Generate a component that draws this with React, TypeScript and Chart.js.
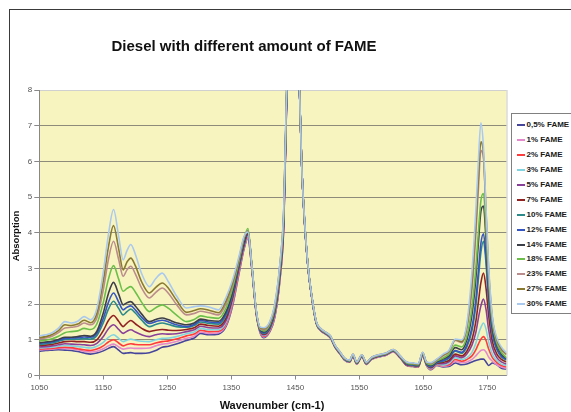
import React, { useEffect, useRef } from "react";
import { Chart, registerables } from "chart.js";

Chart.register(...registerables);

const FONT = '"Liberation Sans", Arial, Helvetica, sans-serif';

const chartTitle = "Diesel with different amount of FAME";
const xAxisTitle = "Wavenumber (cm-1)";
const yAxisTitle = "Absorption";

const xTickValues = [1050, 1150, 1250, 1350, 1450, 1550, 1650, 1750];
const yTickValues = [0, 1, 2, 3, 4, 5, 6, 7, 8];

const seriesLabels = [
  "0,5% FAME", "1% FAME", "2% FAME", "3% FAME", "5% FAME", "7% FAME", "10% FAME",
  "12% FAME", "14% FAME", "18% FAME", "23% FAME", "27% FAME", "30% FAME",
];

const seriesColors = [
  "#45459c", "#e389cc", "#ff3b3b", "#82d3e0", "#8a3f99", "#922222", "#2b8a8a",
  "#3555c2", "#3d3f48", "#6cc04a", "#bb8c8c", "#8a7a30", "#a9c9ee",
];

const wavenumbers = [
  1050, 1060, 1070, 1080, 1090, 1100, 1110, 1120, 1130, 1140,
  1150, 1158, 1166, 1174, 1181, 1187, 1193, 1200, 1210, 1222,
  1232, 1242, 1252, 1264, 1280, 1292, 1302, 1315, 1330, 1342,
  1352, 1362, 1370, 1376, 1382, 1389, 1395, 1401, 1410, 1418,
  1426, 1432, 1436, 1440, 1450, 1456, 1460, 1464, 1470, 1476,
  1483, 1490, 1498, 1505, 1512, 1520, 1527, 1535, 1540, 1546,
  1554, 1561, 1569, 1580, 1592, 1603, 1614, 1624, 1634, 1642,
  1649, 1655, 1662, 1671, 1681, 1690, 1700, 1710, 1718, 1726,
  1732, 1736, 1740, 1744, 1748, 1752, 1758, 1765, 1772, 1780,
];

const fame0_5 = [
  0.68, 0.70, 0.71, 0.72, 0.71, 0.70, 0.67, 0.63, 0.60, 0.63,
  0.69, 0.76, 0.81, 0.71, 0.62, 0.63, 0.64, 0.62, 0.62, 0.64,
  0.70, 0.79, 0.82, 0.88, 0.98, 1.05, 1.18, 1.14, 1.16, 1.38,
  1.95, 2.85, 3.55, 3.85, 3.00, 1.72, 1.20, 1.06, 1.22, 1.63,
  2.68, 4.20, 7.30, 9.60, 10.40, 8.30, 5.90, 4.40, 3.00, 2.15,
  1.44, 1.25, 1.15, 1.05, 0.79, 0.60, 0.43, 0.37, 0.54, 0.32,
  0.52, 0.31, 0.45, 0.52, 0.57, 0.67, 0.49, 0.28, 0.25, 0.23,
  0.55, 0.28, 0.16, 0.28, 0.24, 0.25, 0.35, 0.30, 0.32, 0.38,
  0.42, 0.44, 0.46, 0.46, 0.38, 0.28, 0.35, 0.30, 0.20, 0.18,
];
const fame1 = [
  0.72, 0.73, 0.74, 0.76, 0.76, 0.75, 0.72, 0.68, 0.66, 0.68,
  0.75, 0.83, 0.88, 0.80, 0.74, 0.76, 0.77, 0.76, 0.76, 0.77,
  0.83, 0.88, 0.90, 0.95, 1.04, 1.10, 1.22, 1.18, 1.20, 1.42,
  2.00, 2.90, 3.58, 3.85, 3.00, 1.73, 1.22, 1.08, 1.24, 1.66,
  2.70, 4.23, 7.32, 9.62, 10.41, 8.31, 5.90, 4.41, 3.00, 2.15,
  1.45, 1.25, 1.15, 1.05, 0.80, 0.60, 0.43, 0.37, 0.54, 0.32,
  0.52, 0.31, 0.45, 0.52, 0.57, 0.67, 0.49, 0.29, 0.26, 0.24,
  0.56, 0.29, 0.17, 0.29, 0.26, 0.28, 0.40, 0.36, 0.38, 0.45,
  0.55, 0.63, 0.70, 0.72, 0.66, 0.52, 0.40, 0.30, 0.24, 0.20,
];
const fame2 = [
  0.74, 0.75, 0.76, 0.78, 0.79, 0.78, 0.75, 0.72, 0.70, 0.74,
  0.83, 0.94, 1.00, 0.91, 0.83, 0.87, 0.89, 0.87, 0.86, 0.86,
  0.91, 0.95, 0.97, 1.02, 1.11, 1.16, 1.27, 1.23, 1.24, 1.46,
  2.05, 2.95, 3.60, 3.90, 3.02, 1.74, 1.23, 1.10, 1.26, 1.69,
  2.73, 4.25, 7.34, 9.63, 10.42, 8.31, 5.90, 4.41, 3.01, 2.16,
  1.45, 1.26, 1.16, 1.06, 0.80, 0.61, 0.44, 0.38, 0.55, 0.33,
  0.53, 0.32, 0.46, 0.53, 0.58, 0.68, 0.50, 0.29, 0.26, 0.24,
  0.56, 0.29, 0.18, 0.30, 0.28, 0.30, 0.45, 0.40, 0.45, 0.55,
  0.72, 0.88, 1.02, 1.09, 0.98, 0.75, 0.50, 0.36, 0.28, 0.24,
];
const fame3 = [
  0.77, 0.78, 0.79, 0.82, 0.84, 0.83, 0.81, 0.79, 0.77, 0.82,
  0.93, 1.07, 1.14, 1.04, 0.95, 0.99, 1.02, 0.99, 0.96, 0.95,
  1.00, 1.04, 1.05, 1.09, 1.17, 1.22, 1.32, 1.28, 1.28, 1.50,
  2.10, 3.00, 3.62, 3.92, 3.04, 1.75, 1.24, 1.12, 1.28, 1.72,
  2.75, 4.28, 7.36, 9.65, 10.43, 8.32, 5.90, 4.42, 3.01, 2.16,
  1.45, 1.26, 1.16, 1.06, 0.80, 0.61, 0.44, 0.38, 0.55, 0.33,
  0.53, 0.32, 0.46, 0.53, 0.58, 0.68, 0.50, 0.30, 0.27, 0.25,
  0.57, 0.30, 0.19, 0.31, 0.29, 0.34, 0.50, 0.45, 0.50, 0.65,
  0.90, 1.15, 1.35, 1.47, 1.30, 0.95, 0.60, 0.42, 0.32, 0.28,
];
const fame5 = [
  0.80, 0.81, 0.83, 0.86, 0.89, 0.88, 0.87, 0.86, 0.84, 0.90,
  1.09, 1.31, 1.42, 1.29, 1.18, 1.24, 1.28, 1.22, 1.14, 1.09,
  1.14, 1.17, 1.16, 1.17, 1.23, 1.28, 1.38, 1.34, 1.33, 1.55,
  2.15, 3.02, 3.65, 3.95, 3.05, 1.76, 1.25, 1.14, 1.30, 1.75,
  2.80, 4.33, 7.40, 9.68, 10.45, 8.33, 5.90, 4.43, 3.01, 2.16,
  1.46, 1.27, 1.17, 1.07, 0.81, 0.62, 0.45, 0.39, 0.56, 0.34,
  0.54, 0.33, 0.47, 0.54, 0.59, 0.69, 0.51, 0.30, 0.28, 0.26,
  0.58, 0.31, 0.21, 0.33, 0.33, 0.38, 0.55, 0.50, 0.60, 0.85,
  1.20, 1.60, 1.95, 2.14, 1.85, 1.30, 0.78, 0.50, 0.38, 0.32,
];
const fame7 = [
  0.84, 0.85, 0.87, 0.91, 0.95, 0.96, 0.95, 0.95, 0.93, 1.00,
  1.26, 1.54, 1.68, 1.52, 1.37, 1.47, 1.54, 1.45, 1.32, 1.23,
  1.27, 1.29, 1.27, 1.26, 1.29, 1.34, 1.44, 1.40, 1.38, 1.62,
  2.20, 3.05, 3.68, 3.98, 3.06, 1.77, 1.26, 1.16, 1.32, 1.78,
  2.84, 4.38, 7.44, 9.70, 10.47, 8.34, 5.90, 4.44, 3.02, 2.17,
  1.46, 1.27, 1.17, 1.07, 0.81, 0.62, 0.45, 0.39, 0.56, 0.34,
  0.54, 0.33, 0.47, 0.54, 0.59, 0.69, 0.51, 0.31, 0.28, 0.26,
  0.59, 0.32, 0.23, 0.34, 0.37, 0.42, 0.60, 0.55, 0.68, 1.00,
  1.50, 2.05, 2.60, 2.87, 2.45, 1.70, 0.95, 0.60, 0.45, 0.38,
];
const fame10 = [
  0.87, 0.89, 0.91, 0.96, 1.01, 1.02, 1.02, 1.03, 1.02, 1.12,
  1.48, 1.86, 2.08, 1.88, 1.70, 1.79, 1.86, 1.75, 1.55, 1.37,
  1.43, 1.47, 1.43, 1.37, 1.35, 1.40, 1.50, 1.46, 1.44, 1.70,
  2.27, 3.10, 3.72, 4.02, 3.07, 1.78, 1.27, 1.18, 1.34, 1.80,
  2.89, 4.43, 7.48, 9.74, 10.49, 8.35, 5.90, 4.45, 3.02, 2.17,
  1.47, 1.28, 1.18, 1.08, 0.82, 0.63, 0.46, 0.40, 0.57, 0.35,
  0.55, 0.34, 0.48, 0.55, 0.60, 0.70, 0.52, 0.32, 0.29, 0.27,
  0.60, 0.33, 0.25, 0.36, 0.40, 0.48, 0.68, 0.62, 0.80, 1.25,
  1.95, 2.70, 3.45, 3.76, 3.15, 2.10, 1.15, 0.72, 0.52, 0.43,
];
const fame12 = [
  0.90, 0.92, 0.94, 0.99, 1.04, 1.05, 1.06, 1.08, 1.07, 1.18,
  1.60, 2.05, 2.31, 2.06, 1.84, 1.91, 1.95, 1.84, 1.63, 1.46,
  1.51, 1.55, 1.50, 1.42, 1.37, 1.43, 1.54, 1.50, 1.48, 1.75,
  2.30, 3.12, 3.74, 4.05, 3.08, 1.79, 1.28, 1.20, 1.36, 1.83,
  2.92, 4.45, 7.50, 9.75, 10.50, 8.35, 5.90, 4.45, 3.03, 2.18,
  1.47, 1.28, 1.18, 1.08, 0.82, 0.63, 0.46, 0.40, 0.57, 0.35,
  0.55, 0.34, 0.48, 0.55, 0.60, 0.70, 0.52, 0.33, 0.30, 0.28,
  0.60, 0.33, 0.26, 0.37, 0.42, 0.50, 0.70, 0.65, 0.85, 1.35,
  2.10, 2.90, 3.70, 3.97, 3.30, 2.20, 1.20, 0.75, 0.55, 0.45,
];
const fame14 = [
  0.92, 0.94, 0.96, 1.01, 1.07, 1.07, 1.09, 1.12, 1.10, 1.24,
  1.75, 2.30, 2.61, 2.28, 1.98, 2.04, 2.07, 1.95, 1.72, 1.51,
  1.57, 1.61, 1.56, 1.48, 1.42, 1.47, 1.58, 1.54, 1.52, 1.80,
  2.35, 3.15, 3.76, 4.05, 3.08, 1.79, 1.29, 1.22, 1.38, 1.85,
  2.96, 4.50, 7.54, 9.78, 10.52, 8.36, 5.90, 4.46, 3.03, 2.18,
  1.48, 1.29, 1.19, 1.09, 0.83, 0.64, 0.47, 0.41, 0.58, 0.36,
  0.56, 0.35, 0.49, 0.56, 0.61, 0.71, 0.53, 0.34, 0.31, 0.29,
  0.61, 0.34, 0.28, 0.39, 0.46, 0.55, 0.78, 0.72, 1.00, 1.70,
  2.70, 3.70, 4.60, 4.75, 3.80, 2.50, 1.35, 0.85, 0.60, 0.48,
];
const fame18 = [
  0.97, 0.99, 1.03, 1.10, 1.20, 1.23, 1.25, 1.32, 1.29, 1.45,
  2.05, 2.70, 3.08, 2.70, 2.36, 2.44, 2.49, 2.34, 2.05, 1.79,
  1.90, 1.98, 1.88, 1.70, 1.51, 1.57, 1.67, 1.63, 1.60, 1.90,
  2.45, 3.20, 3.85, 4.12, 3.12, 1.80, 1.30, 1.25, 1.42, 1.90,
  3.01, 4.55, 7.58, 9.81, 10.54, 8.37, 5.90, 4.47, 3.04, 2.19,
  1.48, 1.29, 1.19, 1.09, 0.83, 0.64, 0.47, 0.41, 0.58, 0.36,
  0.56, 0.35, 0.49, 0.56, 0.61, 0.71, 0.53, 0.35, 0.32, 0.30,
  0.62, 0.35, 0.30, 0.41, 0.49, 0.60, 0.85, 0.80, 1.10, 1.90,
  3.00, 4.00, 4.90, 5.10, 4.10, 2.70, 1.45, 0.90, 0.65, 0.50,
];
const fame23 = [
  1.03, 1.05, 1.10, 1.20, 1.33, 1.35, 1.38, 1.47, 1.42, 1.62,
  2.40, 3.25, 3.76, 3.25, 2.78, 2.96, 3.06, 2.85, 2.45, 2.17,
  2.33, 2.45, 2.30, 2.00, 1.70, 1.74, 1.80, 1.76, 1.70, 2.02,
  2.55, 3.25, 3.85, 4.05, 3.10, 1.81, 1.32, 1.28, 1.45, 1.94,
  3.08, 4.63, 7.64, 9.86, 10.57, 8.39, 5.90, 4.49, 3.04, 2.19,
  1.49, 1.30, 1.20, 1.10, 0.84, 0.65, 0.48, 0.42, 0.59, 0.37,
  0.57, 0.36, 0.50, 0.57, 0.62, 0.72, 0.54, 0.37, 0.34, 0.32,
  0.64, 0.37, 0.33, 0.43, 0.55, 0.66, 0.98, 0.92, 1.30, 2.40,
  3.90, 5.20, 6.30, 6.10, 4.50, 2.90, 1.55, 0.98, 0.72, 0.58,
];
const fame27 = [
  1.06, 1.09, 1.15, 1.26, 1.42, 1.40, 1.44, 1.55, 1.48, 1.74,
  2.65, 3.60, 4.20, 3.55, 2.96, 3.18, 3.29, 3.08, 2.62, 2.31,
  2.47, 2.59, 2.44, 2.12, 1.77, 1.82, 1.87, 1.83, 1.76, 2.10,
  2.60, 3.28, 3.87, 4.03, 3.10, 1.82, 1.34, 1.31, 1.48, 1.97,
  3.12, 4.67, 7.67, 9.88, 10.59, 8.39, 5.90, 4.49, 3.05, 2.20,
  1.50, 1.31, 1.21, 1.11, 0.85, 0.66, 0.49, 0.43, 0.60, 0.38,
  0.58, 0.37, 0.51, 0.58, 0.63, 0.73, 0.55, 0.37, 0.34, 0.32,
  0.64, 0.37, 0.35, 0.45, 0.57, 0.68, 1.00, 0.95, 1.38, 2.60,
  4.20, 5.50, 6.55, 6.20, 4.60, 3.00, 1.60, 1.00, 0.75, 0.60,
];
const fame30 = [
  1.11, 1.14, 1.20, 1.33, 1.51, 1.47, 1.52, 1.65, 1.56, 1.88,
  2.90, 3.95, 4.65, 3.90, 3.24, 3.50, 3.67, 3.40, 2.85, 2.49,
  2.72, 2.87, 2.62, 2.24, 1.89, 1.93, 1.95, 1.92, 1.84, 2.20,
  2.68, 3.34, 3.90, 4.02, 3.10, 1.83, 1.36, 1.34, 1.51, 2.02,
  3.15, 4.70, 7.70, 9.90, 10.60, 8.40, 5.90, 4.50, 3.05, 2.20,
  1.50, 1.31, 1.21, 1.11, 0.85, 0.66, 0.49, 0.43, 0.60, 0.38,
  0.58, 0.37, 0.51, 0.58, 0.63, 0.73, 0.55, 0.38, 0.35, 0.33,
  0.65, 0.38, 0.36, 0.46, 0.60, 0.70, 1.02, 1.00, 1.45, 2.90,
  4.60, 6.00, 7.08, 6.40, 4.70, 3.10, 1.65, 1.05, 0.80, 0.63,
];

const seriesValues = [
  fame0_5, fame1, fame2, fame3, fame5, fame7, fame10,
  fame12, fame14, fame18, fame23, fame27, fame30,
];

export default function App() {
  const canvasRef = useRef<HTMLCanvasElement | null>(null);

  useEffect(() => {
    if (!canvasRef.current) return;
    Chart.defaults.font.family = FONT;

    const datasets = seriesValues.map((vals, i) => ({
      label: seriesLabels[i],
      data: vals.map((y, j) => ({ x: wavenumbers[j], y })),
      borderColor: seriesColors[i],
      backgroundColor: seriesColors[i],
      borderWidth: 1.6,
      pointRadius: 0,
      fill: false,
      cubicInterpolationMode: "monotone" as const,
      order: seriesValues.length - 1 - i,
    }));

    const plotBackground = {
      id: "plotBackground",
      beforeDraw(chart: any) {
        const { ctx, chartArea: a } = chart;
        ctx.save();
        ctx.fillStyle = "#f8f4c0";
        ctx.fillRect(a.left, a.top, a.right - a.left, a.bottom - a.top);
        ctx.restore();
      },
      afterDraw(chart: any) {
        const { ctx, chartArea: a } = chart;
        ctx.save();
        ctx.strokeStyle = "#c8c8c8";
        ctx.lineWidth = 1;
        ctx.beginPath();
        ctx.moveTo(a.right + 0.5, a.top);
        ctx.lineTo(a.right + 0.5, a.bottom);
        ctx.stroke();
        ctx.restore();
      },
    };

    const chart = new Chart(canvasRef.current, {
      type: "line",
      data: { datasets },
      plugins: [plotBackground],
      options: {
        responsive: false,
        animation: false,
        events: [],
        layout: { padding: { top: 90, left: 0, right: 64.5, bottom: 0 } },
        plugins: {
          legend: { display: false },
          tooltip: { enabled: false },
          title: { display: false },
        },
        scales: {
          x: {
            type: "linear",
            min: 1050,
            max: 1780,
            afterBuildTicks: (s: any) => {
              s.ticks = xTickValues.map((v) => ({ value: v }));
            },
            afterFit: (s: any) => {
              s.height = 36.5;
            },
            ticks: {
              color: "#555",
              font: { size: 8, family: FONT },
              padding: 3,
              maxRotation: 0,
              autoSkip: false,
              callback: (v: any) => String(v),
            },
            grid: {
              drawOnChartArea: false,
              drawTicks: true,
              tickLength: 4,
              color: "#888",
              tickColor: "#888",
            },
            border: { display: true, color: "#888", width: 1 },
          },
          y: {
            min: 0,
            max: 8,
            afterBuildTicks: (s: any) => {
              s.ticks = yTickValues.map((v) => ({ value: v }));
            },
            afterFit: (s: any) => {
              s.width = 39.3;
            },
            ticks: {
              color: "#555",
              font: { size: 8, family: FONT },
              padding: 2,
            },
            grid: {
              color: (c: any) => (c.tick && c.tick.value === 8 ? "#d0d0d0" : "#8e8b7b"),
              tickColor: "#888",
              tickLength: 5,
              lineWidth: 1,
            },
            border: { display: true, color: "#888", width: 1 },
          },
        },
      },
    } as any);

    return () => chart.destroy();
  }, []);

  const legendTop = 113;
  const legendLeft = 510.5;
  const rowStep = 14.94;

  return (
    <div
      style={{
        position: "fixed",
        left: 0,
        top: 0,
        width: 571,
        height: 412,
        overflow: "hidden",
        background: "#ffffff",
        fontFamily: FONT,
      }}
    >
      <div
        style={{
          position: "absolute",
          left: 9,
          top: 9,
          width: 700,
          height: 700,
          border: "1px solid #3a3a3a",
        }}
      />
      <canvas
        ref={canvasRef}
        width={571}
        height={412}
        style={{ position: "absolute", left: 0, top: 0, width: 571, height: 412 }}
      />
      <div
        style={{
          position: "absolute",
          left: 0,
          top: 37,
          width: 488,
          textAlign: "center",
          fontWeight: "bold",
          fontSize: 15,
          lineHeight: "17px",
          color: "#111",
          whiteSpace: "nowrap",
        }}
      >
        {chartTitle}
      </div>
      <div
        style={{
          position: "absolute",
          left: 16 - 100,
          top: 236 - 6,
          width: 200,
          height: 12,
          lineHeight: "12px",
          textAlign: "center",
          fontWeight: "bold",
          fontSize: 9.5,
          color: "#111",
          transform: "rotate(-90deg)",
          transformOrigin: "50% 50%",
          whiteSpace: "nowrap",
        }}
      >
        {yAxisTitle}
      </div>
      <div
        style={{
          position: "absolute",
          left: 172,
          top: 398,
          width: 200,
          textAlign: "center",
          fontWeight: "bold",
          fontSize: 11,
          lineHeight: "14px",
          color: "#111",
          whiteSpace: "nowrap",
        }}
      >
        {xAxisTitle}
      </div>
      <div
        style={{
          position: "absolute",
          left: legendLeft,
          top: legendTop,
          width: 90,
          height: 201,
          boxSizing: "border-box",
          border: "1px solid #808080",
          background: "#ffffff",
        }}
      >
        {seriesLabels.map((label, i) => {
          const cy = 11 + i * rowStep;
          return (
            <React.Fragment key={label}>
              <div
                style={{
                  position: "absolute",
                  left: 5,
                  top: cy - 1,
                  width: 8.5,
                  height: 2,
                  background: seriesColors[i],
                }}
              />
              <div
                style={{
                  position: "absolute",
                  left: 15,
                  top: cy - 5,
                  fontSize: 8,
                  lineHeight: "10px",
                  fontWeight: "bold",
                  color: "#1a1a1a",
                  whiteSpace: "nowrap",
                }}
              >
                {label}
              </div>
            </React.Fragment>
          );
        })}
      </div>
    </div>
  );
}
